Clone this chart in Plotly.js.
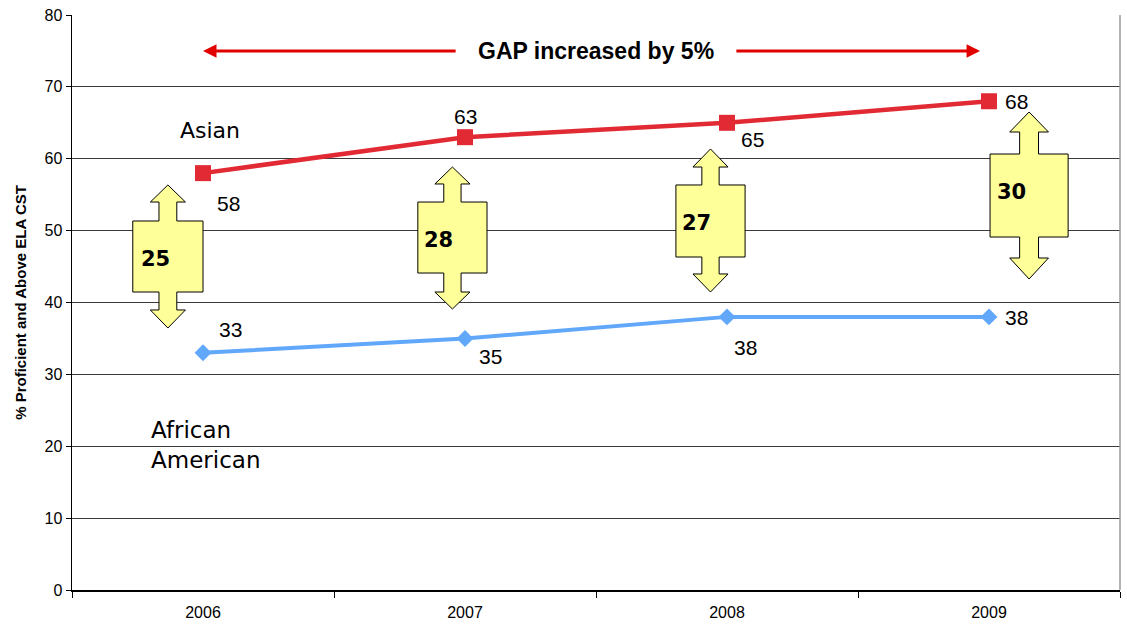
<!DOCTYPE html>
<html>
<head>
<meta charset="utf-8">
<script src="https://cdn.plot.ly/plotly-3.0.1.min.js"></script>
<style>html,body{margin:0;padding:0;background:#fff;}#chart{width:1127px;height:626px;}</style>
</head>
<body>
<div id="chart"></div>
<script>
// ---- data ----
var years = ["2006", "2007", "2008", "2009"];
var asian = [58, 63, 65, 68];
var africanAmerican = [33, 35, 38, 38];
var gapNote = "GAP increased by 5%";
var asianLabel = "Asian";
var aaLabel = "African<br>American";
var yTitle = "% Proficient and Above ELA CST";

// ---- layout helpers (positions/styles only) ----
var idx = years.map(function (_, i) { return i; });
var gaps = asian.map(function (v, i) { return v - africanAmerican[i]; });

// double-arrow geometry: center offset (categories), y stops, half widths
var arrowGeom = [
  {dx: -0.134, ys: [56.35, 53.98, 51.34, 41.46, 38.96, 36.45], bw: 0.134, hw: 0.067, sw: 0.034, lx: -0.18, ly: 46.0},
  {dx: -0.048, ys: [58.85, 56.49, 53.98, 44.10, 41.46, 39.10], bw: 0.132, hw: 0.067, sw: 0.033, lx: -0.103, ly: 48.7},
  {dx: -0.063, ys: [61.36, 58.85, 56.35, 46.33, 43.97, 41.46], bw: 0.132, hw: 0.067, sw: 0.033, lx: -0.115, ly: 51.1},
  {dx: 0.153, ys: [66.50, 63.72, 60.66, 49.11, 46.19, 43.27], bw: 0.149, hw: 0.074, sw: 0.036, lx: 0.084, ly: 55.4}
];
function dblArrow(cx, g) {
  var y = g.ys, p = [];
  function pt(x, yy) { p.push(x.toFixed(4) + "," + yy); }
  pt(cx, y[0]); pt(cx + g.hw, y[1]); pt(cx + g.sw, y[1]); pt(cx + g.sw, y[2]);
  pt(cx + g.bw, y[2]); pt(cx + g.bw, y[3]); pt(cx + g.sw, y[3]); pt(cx + g.sw, y[4]);
  pt(cx + g.hw, y[4]); pt(cx, y[5]); pt(cx - g.hw, y[4]); pt(cx - g.sw, y[4]);
  pt(cx - g.sw, y[3]); pt(cx - g.bw, y[3]); pt(cx - g.bw, y[2]); pt(cx - g.sw, y[2]);
  pt(cx - g.sw, y[1]); pt(cx - g.hw, y[1]);
  return "M" + p.join(" L") + " Z";
}

var shapes = [];
arrowGeom.forEach(function (g, i) {
  shapes.push({type: "path", xref: "x", yref: "y", path: dblArrow(idx[i] + g.dx, g),
    fillcolor: "#FFFF99", line: {color: "#000000", width: 1}, layer: "above"});
});
shapes.push({type: "line", xref: "paper", yref: "paper", x0: 1, x1: 1, y0: 0, y1: 1,
  line: {color: "#9a9a9a", width: 1.5}});

var traces = [
  {x: idx, y: asian, type: "scatter", mode: "lines+markers", name: "Asian",
   line: {color: "#E12A34", width: 4.5}, marker: {symbol: "square", size: 16, color: "#E12A34"},
   hoverinfo: "skip"},
  {x: idx, y: africanAmerican, type: "scatter", mode: "lines+markers", name: "African American",
   line: {color: "#62A8FA", width: 4}, marker: {symbol: "diamond", size: 13, color: "#62A8FA"},
   hoverinfo: "skip"}
];

var lblFont = {family: "Liberation Sans, Arial, sans-serif", size: 21, color: "#000"};
var asianShift = [[25, -30], [0, 21], [25, -17], [27, 0]];
var aaShift = [[27, 23], [25, -18], [18, -31], [27, -1]];
var annotations = [];
asian.forEach(function (v, i) {
  annotations.push({x: idx[i], y: v, xref: "x", yref: "y", text: String(v), showarrow: false,
    xshift: asianShift[i][0], yshift: asianShift[i][1], font: lblFont});
});
africanAmerican.forEach(function (v, i) {
  annotations.push({x: idx[i], y: v, xref: "x", yref: "y", text: String(v), showarrow: false,
    xshift: aaShift[i][0], yshift: aaShift[i][1], font: lblFont});
});
gaps.forEach(function (v, i) {
  var g = arrowGeom[i];
  annotations.push({x: idx[i] + g.lx, y: g.ly, xref: "x", yref: "y", text: String(v), showarrow: false,
    font: {family: "DejaVu Sans, Verdana, sans-serif", size: 21, color: "#000", weight: "bold"}});
});
annotations.push({x: 0.027, y: 64.0, xref: "x", yref: "y", text: asianLabel, showarrow: false,
  font: {family: "DejaVu Sans, Verdana, sans-serif", size: 22, color: "#000"}});
annotations.push({x: -0.205, y: 20.2, xref: "x", yref: "y", text: aaLabel, showarrow: false,
  xanchor: "left", align: "left",
  font: {family: "DejaVu Sans, Verdana, sans-serif", size: 23, color: "#000"}});
annotations.push({x: 1.5, y: 75, xref: "x", yref: "y", text: "<b>" + gapNote + "</b>", showarrow: false,
  font: {family: "Liberation Sans, Arial, sans-serif", size: 23, color: "#000"}});
// gap arrows
annotations.push({x: 0, y: 75, ax: 0.97, ay: 75, axref: "x", ayref: "y", xref: "x", yref: "y",
  text: "", showarrow: true, arrowhead: 2, arrowsize: 0.9, arrowwidth: 3, arrowcolor: "#E00000"});
annotations.push({x: 2.966, y: 75, ax: 2.03, ay: 75, axref: "x", ayref: "y", xref: "x", yref: "y",
  text: "", showarrow: true, arrowhead: 2, arrowsize: 0.9, arrowwidth: 3, arrowcolor: "#E00000"});

var layout = {
  width: 1127, height: 626,
  margin: {l: 72, r: 7, t: 15, b: 36},
  paper_bgcolor: "#ffffff", plot_bgcolor: "#ffffff",
  showlegend: false,
  font: {family: "Liberation Sans, Arial, sans-serif", color: "#000"},
  xaxis: {
    type: "linear", range: [-0.5, 3.5], fixedrange: true,
    tickmode: "array", tickvals: idx, ticktext: years, ticks: "",
    tickfont: {size: 16, color: "#000"}, ticklabelstandoff: 7,
    showgrid: false, zeroline: false,
    showline: true, linecolor: "#000", linewidth: 1.5,
    minor: {tickmode: "array", tickvals: [-0.5, 0.5, 1.5, 2.5, 3.5], ticks: "outside",
            ticklen: 6, tickcolor: "#000", tickwidth: 1, showgrid: false}
  },
  yaxis: {
    range: [0, 80], dtick: 10, tick0: 0, fixedrange: true,
    ticks: "outside", ticklen: 5, tickcolor: "#000",
    tickfont: {size: 16, color: "#000"},
    showgrid: true, gridcolor: "#3a3a3a", gridwidth: 1,
    zeroline: false, showline: true, linecolor: "#000", linewidth: 1.5,
    title: {text: "<b>" + yTitle + "</b>", font: {size: 15, color: "#000"}, standoff: 14}
  },
  shapes: shapes,
  annotations: annotations
};

Plotly.newPlot("chart", traces, layout, {displayModeBar: false, staticPlot: true});
</script>
</body>
</html>
